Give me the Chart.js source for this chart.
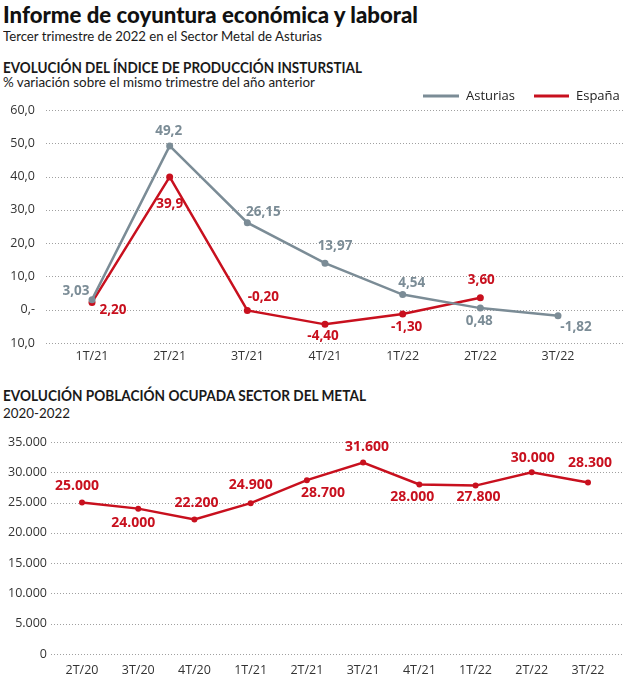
<!DOCTYPE html>
<html><head><meta charset="utf-8">
<script src="https://cdn.jsdelivr.net/npm/chart.js@4/dist/chart.umd.min.js"></script>
<style>
html,body{margin:0;padding:0;background:#fff;}
body{width:624px;height:694px;position:relative;overflow:hidden;font-family:"Open Sans","Noto Sans",sans-serif;color:#1a1a1a;}
.t{position:absolute;left:3px;white-space:nowrap;line-height:1;transform-origin:0 0;display:inline-block;font-family:Lato,"Open Sans",sans-serif;}
#title{top:3px;font-size:23px;font-weight:900;color:#111;}
#sub{top:29px;font-size:14px;}
#sec1{top:60px;font-size:15.5px;font-weight:700;}
#sub1{top:76px;font-size:13.5px;}
#sec2{top:388px;font-size:15.5px;font-weight:700;}
#sub2{top:407px;font-size:13.5px;}
#c1wrap{position:absolute;left:0;top:85px;width:624px;height:290px;}
#c2wrap{position:absolute;left:0;top:425px;width:624px;height:265px;}
</style></head>
<body>
<div class="t" id="title" data-w="415">Informe de coyuntura económica y laboral</div>
<div class="t" id="sub" data-w="319">Tercer trimestre de 2022 en el Sector Metal de Asturias</div>
<div class="t" id="sec1" data-w="359">EVOLUCIÓN DEL ÍNDICE DE PRODUCCIÓN INSTURSTIAL</div>
<div class="t" id="sub1" data-w="312">% variación sobre el mismo trimestre del año anterior</div>
<div class="t" id="sec2" data-w="363">EVOLUCIÓN POBLACIÓN OCUPADA SECTOR DEL METAL</div>
<div class="t" id="sub2" data-w="67">2020-2022</div>
<div id="c1wrap"><canvas id="c1" width="624" height="290"></canvas></div>
<div id="c2wrap"><canvas id="c2" width="624" height="265"></canvas></div>
<script>
// ---- data ----
const quartersTop = ['1T/21','2T/21','3T/21','4T/21','1T/22','2T/22','3T/22'];
const asturias = [3.03, 49.2, 26.15, 13.97, 4.54, 0.48, -1.82];
const asturiasLabels = ['3,03','49,2','26,15','13,97','4,54','0,48','-1,82'];
const espana = [2.2, 39.9, -0.2, -4.4, -1.3, 3.6, null];
const espanaLabels = ['2,20','39,9','-0,20','-4,40','-1,30','3,60',''];
const topTickValues = [-10, 0, 10, 20, 30, 40, 50, 60];
const topTickLabels = ['10,0', '0,-', '10,0', '20,0', '30,0', '40,0', '50,0', '60,0'];

const quartersBottom = ['2T/20','3T/20','4T/20','1T/21','2T/21','3T/21','4T/21','1T/22','2T/22','3T/22'];
const ocupados = [25000, 24000, 22200, 24900, 28700, 31600, 28000, 27800, 30000, 28300];
const ocupadosLabels = ['25.000','24.000','22.200','24.900','28.700','31.600','28.000','27.800','30.000','28.300'];
const bottomTickValues = [0, 5000, 10000, 15000, 20000, 25000, 30000, 35000];
const bottomTickLabels = ['0','5.000','10.000','15.000','20.000','25.000','30.000','35.000'];

// ---- styles ----
const GRAY = '#7b8c96';
const RED = '#c8101e';
const FONT = '"Open Sans","Noto Sans",sans-serif';

// fit header widths
document.querySelectorAll('.t').forEach(el => {
  const w = el.getBoundingClientRect().width;
  const target = +el.dataset.w;
  el.style.transform = 'scaleX(' + (target / w) + ')';
});

// label offsets (dx, dy in px from the point)
const asturiasOffsets = [[-16,-8],[-1,-15],[16,-11],[10,-17],[9,-11],[-1,13],[18,11]];
const espanaOffsets = [[21,8],[0,27],[16,-13],[-2,12],[4,13],[1,-18],[0,0]];
const ocupadosOffsets = [[-5,-17],[-5,14],[2,-17],[0,-18],[16,13],[4,-16],[-7,13],[3,11],[1,-14],[2,-20]];

const gridPlugin = {
  id: 'fullGrid',
  beforeDatasetsDraw(chart, args, opts) {
    const ctx = chart.ctx, y = chart.scales.y;
    ctx.save();
    ctx.strokeStyle = '#a0a0a0';
    ctx.lineWidth = 1;
    ctx.setLineDash([1, 2]);
    y.ticks.forEach(t => {
      const py = Math.round(y.getPixelForValue(t.value)) + 0.5;
      ctx.beginPath();
      ctx.moveTo(opts.x0, py);
      ctx.lineTo(chart.width, py);
      ctx.stroke();
    });
    ctx.restore();
  }
};

const labelPlugin = {
  id: 'pointLabels',
  afterDatasetsDraw(chart, args, opts) {
    const ctx = chart.ctx;
    ctx.save();
    ctx.textAlign = 'center';
    ctx.textBaseline = 'middle';
    chart.data.datasets.forEach((ds, i) => {
      const meta = chart.getDatasetMeta(i);
      ctx.fillStyle = ds.borderColor;
      ctx.font = opts.font;
      meta.data.forEach((pt, j) => {
        const txt = ds.pointLabels[j];
        if (!txt || ds.data[j] === null) return;
        const off = ds.labelOffsets[j];
        ctx.fillText(txt, pt.x + off[0], pt.y + off[1]);
      });
    });
    ctx.restore();
  }
};

const legendPlugin = {
  id: 'lineLegend',
  afterDraw(chart, args, opts) {
    if (!opts.items) return;
    const ctx = chart.ctx;
    ctx.save();
    ctx.font = '13px ' + FONT;
    ctx.textBaseline = 'middle';
    ctx.textAlign = 'left';
    opts.items.forEach((it, i) => {
      const ds = chart.data.datasets[i];
      ctx.fillStyle = ds.borderColor;
      ctx.fillRect(it.x, opts.y - 1.5, it.w, 3);
      ctx.fillStyle = '#222';
      ctx.fillText(ds.label, it.x + it.w + 7, opts.y);
    });
    ctx.restore();
  }
};

function baseOptions(cfg) {
  return {
    responsive: false,
    animation: false,
    layout: { padding: { left: 0, right: cfg.right, top: cfg.top, bottom: 0 } },
    plugins: {
      legend: { display: false },
      tooltip: { enabled: false },
      fullGrid: { x0: cfg.gridX0 },
      pointLabels: { font: cfg.labelFont },
      lineLegend: cfg.legend || {}
    },
    scales: {
      x: {
        offset: false,
        grid: { display: false, drawTicks: false },
        border: { display: false },
        ticks: { color: '#333', font: { family: FONT, size: 12.5 }, padding: cfg.xPad, maxRotation: 0, autoSkip: false },
        afterFit(s) { s.height = cfg.xHeight; s.paddingLeft = 0; s.paddingRight = 0; }
      },
      y: {
        min: cfg.min, max: cfg.max,
        grid: { display: false, drawTicks: false },
        border: { display: false },
        afterBuildTicks(s) { s.ticks = cfg.tickValues.map(v => ({ value: v })); },
        ticks: {
          color: '#333', font: { family: FONT, size: 12.5 }, padding: cfg.yPad,
          callback(v) { const k = cfg.tickValues.indexOf(v); return k >= 0 ? cfg.tickLabels[k] : ''; }
        },
        afterFit(s) { s.width = cfg.yWidth; s.paddingTop = 0; s.paddingBottom = 0; }
      }
    }
  };
}

new Chart(document.getElementById('c1'), {
  type: 'line',
  data: {
    labels: quartersTop,
    datasets: [
      { label: 'Asturias', data: asturias, pointLabels: asturiasLabels, labelOffsets: asturiasOffsets,
        borderColor: GRAY, backgroundColor: GRAY, borderWidth: 2.5, pointRadius: 3.5, pointBorderWidth: 0,
        pointBackgroundColor: GRAY, tension: 0, clip: false },
      { label: 'España', data: espana, pointLabels: espanaLabels, labelOffsets: espanaOffsets,
        borderColor: RED, backgroundColor: RED, borderWidth: 2.5, pointRadius: 3.5, pointBorderWidth: 0,
        pointBackgroundColor: RED, tension: 0, clip: false, spanGaps: false }
    ]
  },
  options: baseOptions({ right: 66, top: 25, gridX0: 46, xHeight: 32, xPad: 6, yPad: 57, yWidth: 92,
    min: -10, max: 60, tickValues: topTickValues, tickLabels: topTickLabels,
    labelFont: 'bold 13.5px ' + FONT,
    legend: { y: 11, items: [{ x: 423, w: 36 }, { x: 534, w: 35 }] } }),
  plugins: [gridPlugin, labelPlugin, legendPlugin]
});

new Chart(document.getElementById('c2'), {
  type: 'line',
  data: {
    labels: quartersBottom,
    datasets: [
      { label: 'Población ocupada', data: ocupados, pointLabels: ocupadosLabels, labelOffsets: ocupadosOffsets,
        borderColor: RED, backgroundColor: RED, borderWidth: 2.5, pointRadius: 3, pointBorderWidth: 0,
        pointBackgroundColor: RED, tension: 0, clip: false }
    ]
  },
  options: baseOptions({ right: 36, top: 17, gridX0: 51, xHeight: 36, xPad: 9, yPad: 35, yWidth: 82,
    min: 0, max: 35000, tickValues: bottomTickValues, tickLabels: bottomTickLabels,
    labelFont: 'bold 14px ' + FONT }),
  plugins: [gridPlugin, labelPlugin]
});
</script>
</body></html>
